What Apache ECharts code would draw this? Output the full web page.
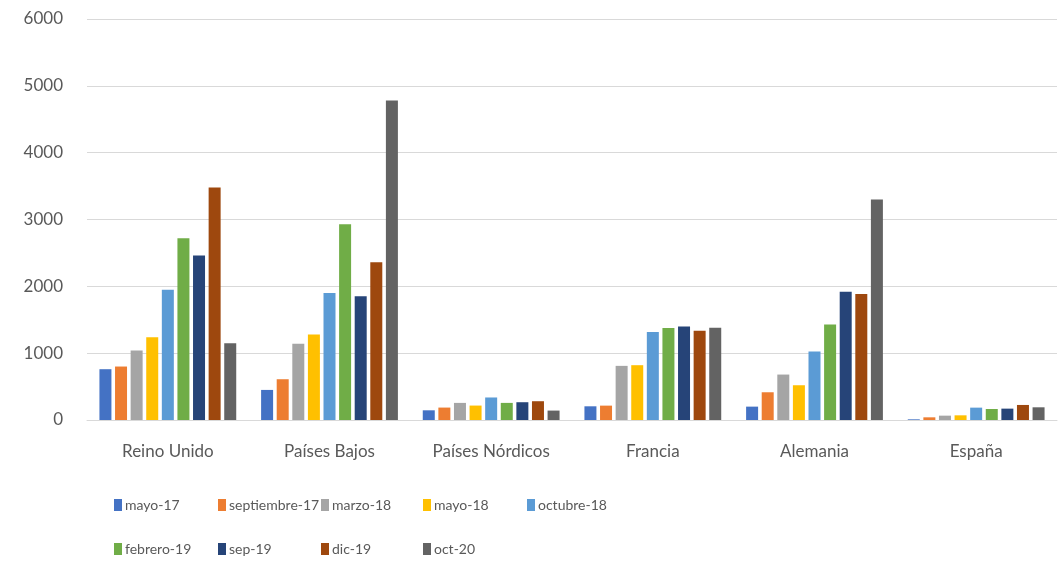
<!DOCTYPE html>
<html><head><meta charset="utf-8">
<script src="https://cdn.jsdelivr.net/npm/echarts@6/dist/echarts.min.js"></script>
<style>html,body{margin:0;padding:0;background:#fff}#c{width:1059px;height:562px}</style>
</head><body><div id="c"></div>
<script>
const categories = ['Reino Unido','Países Bajos','Países Nórdicos','Francia','Alemania','España'];
const seriesNames = ['mayo-17','septiembre-17','marzo-18','mayo-18','octubre-18','febrero-19','sep-19','dic-19','oct-20'];
const mayo17 = [760, 450, 145, 205, 200, 10];
const septiembre17 = [800, 610, 186, 215, 415, 40];
const marzo18 = [1040, 1140, 256, 810, 680, 65];
const mayo18 = [1240, 1280, 216, 820, 520, 70];
const octubre18 = [1950, 1900, 337, 1315, 1025, 185];
const febrero19 = [2720, 2930, 256, 1375, 1430, 165];
const sep19 = [2460, 1850, 266, 1400, 1920, 170];
const dic19 = [3480, 2360, 281, 1335, 1885, 225];
const oct20 = [1150, 4780, 141, 1380, 3300, 190];
const yTicks = [0, 1000, 2000, 3000, 4000, 5000, 6000];

const values = [mayo17, septiembre17, marzo18, mayo18, octubre18, febrero19, sep19, dic19, oct20];
const colors = ['#4472C4','#ED7D31','#A5A5A5','#FFC000','#5B9BD5','#70AD47','#264478','#9E480E','#636363'];
const font = 'Lato, "Open Sans", sans-serif';
const txt = '#595959';

const legendPos = [
  [114,498],[218,498],[321,498],[423,498],[527,498],
  [114,542],[218,542],[321,542],[423,542]
];
const legends = seriesNames.map((n, i) => ({
  data: [n], left: legendPos[i][0], top: legendPos[i][1],
  itemWidth: 8, itemHeight: 12, itemGap: 0, padding: 0,
  icon: 'rect',
  textStyle: { color: txt, fontSize: 14, fontFamily: font, padding: [0,0,0,-2] }
}));

const chart = echarts.init(document.getElementById('c'), null, { renderer: 'canvas' });
chart.setOption({
  animation: false,
  color: colors,
  grid: { left: 87, right: 2, top: 19, bottom: 142, containLabel: false },
  legend: legends,
  xAxis: {
    type: 'category', data: categories,
    axisLine: { lineStyle: { color: '#D9D9D9', width: 1 } },
    axisTick: { show: false },
    axisLabel: { color: txt, fontSize: 17, fontFamily: font, margin: 23 }
  },
  yAxis: {
    type: 'value', min: yTicks[0], max: yTicks[yTicks.length-1], interval: 1000,
    axisLine: { show: false }, axisTick: { show: false },
    axisLabel: { color: txt, fontSize: 17, fontFamily: font, margin: 24, formatter: v => String(v) },
    splitLine: { lineStyle: { color: '#D9D9D9', width: 1 } }
  },
  series: seriesNames.map((n, i) => ({
    name: n, type: 'bar', data: values[i],
    barWidth: 12, barGap: '30%',
    itemStyle: { color: colors[i] }
  }))
});
</script></body></html>
